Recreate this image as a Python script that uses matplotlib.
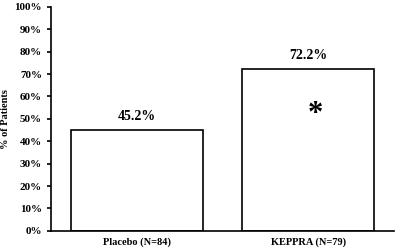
import matplotlib
matplotlib.use("Agg")
import matplotlib.pyplot as plt
from matplotlib.ticker import PercentFormatter

groups = ["Placebo (N=84)", "KEPPRA (N=79)"]
pct = [45.2, 72.2]
value_labels = ["45.2%", "72.2%"]

plt.rcParams['font.family'] = ['Liberation Serif', 'DejaVu Serif']
plt.rcParams['font.weight'] = 'bold'

fig = plt.figure(figsize=(4, 2.5), dpi=100)
ax = fig.add_axes([0.1275, 0.077, 0.8575, 0.895])

x = list(range(len(groups)))
ax.bar(x, pct, width=0.77, color='white', edgecolor='black', linewidth=1.2)

# value labels above bars
for xi, v, lab in zip(x, pct, value_labels):
    ax.text(xi, v + 3, lab, ha='center', va='bottom', fontsize=10, fontweight='bold')

# significance marker
ax.text(1.04, 52, "*", ha='center', va='center', fontsize=22, fontweight='bold')

ax.set_xlim(-0.5, 1.5)
ax.set_ylim(0, 100)
ax.set_yticks(range(0, 101, 10))
ax.yaxis.set_major_formatter(PercentFormatter(decimals=0))
ax.set_xticks(x)
ax.set_xticklabels(groups)
ax.tick_params(axis='x', length=0, labelsize=7.5, pad=5)
ax.tick_params(axis='y', length=3, labelsize=8, width=1.2)
for lab in ax.get_xticklabels() + ax.get_yticklabels():
    lab.set_fontweight('bold')

ax.spines['top'].set_visible(False)
ax.spines['right'].set_visible(False)
ax.spines['left'].set_linewidth(1.2)
ax.spines['bottom'].set_linewidth(1.2)

ax.set_ylabel("% of Patients", fontsize=7.5, fontweight='bold', labelpad=3)

plt.savefig('out.png', dpi=100)
